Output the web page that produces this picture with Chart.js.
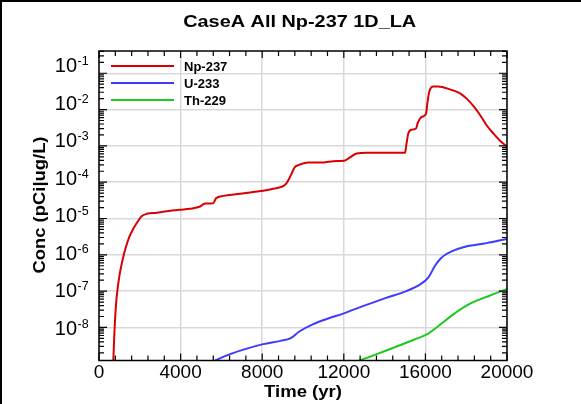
<!DOCTYPE html>
<html>
<head>
<meta charset="utf-8">
<script src="https://cdn.jsdelivr.net/npm/chart.js@4/dist/chart.umd.min.js"></script>
<style>
html,body{margin:0;padding:0;background:#fff;}
canvas{display:block;}
</style>
</head>
<body>
<canvas id="c" width="581" height="404"></canvas>
<script>
// ---- data ----
const chartTitle = "CaseA All Np-237 1D_LA";
const xTitle = "Time (yr)";
const yTitle = "Conc (pCi|ug/L)";
const seriesNames = ["Np-237", "U-233", "Th-229"];
const xTickValues = [0, 4000, 8000, 12000, 16000, 20000];
const yTickExponents = [-1, -2, -3, -4, -5, -6, -7, -8];

const npTime = [700, 750, 800, 860, 920, 1000, 1100, 1200, 1300, 1490, 1680, 1900, 2090, 2340, 2830, 3320, 3970, 4460, 4950, 5100, 5200, 5450, 5600, 5735, 6090, 6910, 7560, 8050, 8540, 9030, 9200, 9360, 9600, 9770, 10260, 11000, 11490, 12020, 12300, 12630, 13120, 15000, 15050, 15160, 15330, 15540, 15620, 15820, 16030, 16095, 16190, 16390, 16630, 17200, 17700, 18020, 18350, 18680, 19000, 19330, 19660, 20000];
const npConc = [1.12e-9, 6.3e-9, 2.24e-8, 6.3e-8, 1.26e-7, 2.63e-7, 5.2e-7, 9.3e-7, 1.51e-6, 3.16e-6, 5.2e-6, 8.3e-6, 1.15e-5, 1.35e-5, 1.45e-5, 1.58e-5, 1.74e-5, 1.86e-5, 2.14e-5, 2.45e-5, 2.6e-5, 2.6e-5, 2.62e-5, 3.6e-5, 4.2e-5, 4.8e-5, 5.4e-5, 5.8e-5, 6.6e-5, 7.8e-5, 9.5e-5, 1.38e-4, 2.6e-4, 2.95e-4, 3.5e-4, 3.5e-4, 3.8e-4, 3.9e-4, 4.8e-4, 6.2e-4, 6.5e-4, 6.5e-4, 9.3e-4, 2.2e-3, 2.8e-3, 3.0e-3, 4.2e-3, 6.3e-3, 7.6e-3, 1.48e-2, 3.1e-2, 4.3e-2, 4.3e-2, 3.6e-2, 2.8e-2, 2.0e-2, 1.26e-2, 7.1e-3, 3.7e-3, 2.2e-3, 1.38e-3, 9.5e-4];

const uTime = [5600, 6400, 7200, 8050, 8900, 9400, 9800, 10500, 11200, 12000, 13000, 14000, 15100, 15700, 16150, 16470, 16750, 17050, 17860, 19000, 20000];
const uConc = [1.17e-9, 1.82e-9, 2.57e-9, 3.47e-9, 4.27e-9, 5.1e-9, 7.6e-9, 1.23e-8, 1.74e-8, 2.45e-8, 4.0e-8, 6.3e-8, 1.02e-7, 1.48e-7, 2.4e-7, 5.0e-7, 7.9e-7, 1.07e-6, 1.62e-6, 2.1e-6, 2.75e-6];

const thTime = [12550, 12710, 13780, 15400, 16140, 16550, 17370, 18190, 19170, 20000];
const thConc = [1.12e-9, 1.2e-9, 2.0e-9, 4.5e-9, 6.8e-9, 1.0e-8, 2.3e-8, 4.5e-8, 7.6e-8, 1.15e-7];

const colors = ["#d80000", "#3c3cff", "#1ec81e"];

// ---- build ----
function pts(t, v) { return t.map((x, i) => ({x: x, y: v[i]})); }
const seriesData = [pts(npTime, npConc), pts(uTime, uConc), pts(thTime, thConc)];

function drawText(ctx, s, x, y, font, width, align, rot) {
  ctx.save();
  ctx.font = font;
  const m = ctx.measureText(s).width;
  const sx = width ? width / m : 1;
  ctx.translate(x, y);
  if (rot) ctx.rotate(rot);
  ctx.scale(sx, 1);
  ctx.textAlign = align || 'left';
  ctx.textBaseline = 'alphabetic';
  ctx.fillStyle = '#000';
  ctx.fillText(s, 0, 0);
  ctx.restore();
}

const decorPlugin = {
  id: 'decor',
  beforeDraw(chart) {
    const ctx = chart.ctx;
    ctx.save();
    ctx.fillStyle = '#fff';
    ctx.fillRect(0, 0, chart.width, chart.height);
    ctx.restore();
  },
  afterDraw(chart) {
    const ctx = chart.ctx, ca = chart.chartArea;
    const xs = chart.scales.x, ys = chart.scales.y;
    ctx.save();
    // outer image border (top + left)
    ctx.fillStyle = '#000';
    ctx.fillRect(0, 0, chart.width, 2);
    ctx.fillRect(0, 0, 2, chart.height);

    // frame
    ctx.strokeStyle = '#000';
    ctx.lineWidth = 1.5;
    ctx.strokeRect(ca.left, ca.top, ca.right - ca.left, ca.bottom - ca.top);

    // x ticks (major + minor), bottom and top, inward
    ctx.lineWidth = 1.2;
    for (let v = 0; v <= 20000; v += 800) {
      const px = xs.getPixelForValue(v);
      const len = (v % 4000 === 0) ? 7 : 5;
      ctx.beginPath();
      ctx.moveTo(px, ca.bottom); ctx.lineTo(px, ca.bottom - len);
      ctx.moveTo(px, ca.top); ctx.lineTo(px, ca.top + len);
      ctx.stroke();
    }
    // y ticks (major + minor), left and right, inward
    for (let d = -10; d <= 0; d++) {
      for (let m = 1; m <= 9; m++) {
        const val = m * Math.pow(10, d);
        if (val < ys.min || val > ys.max) continue;
        const py = ys.getPixelForValue(val);
        const len = (m === 1) ? 8 : 5;
        ctx.beginPath();
        ctx.moveTo(ca.left, py); ctx.lineTo(ca.left + len, py);
        ctx.moveTo(ca.right, py); ctx.lineTo(ca.right - len, py);
        ctx.stroke();
      }
    }

    // x tick labels
    ctx.fillStyle = '#000';
    xTickValues.forEach(v => {
      drawText(ctx, String(v), xs.getPixelForValue(v), 378, '19px "Liberation Sans", Arial, sans-serif', null, 'center');
    });
    // y tick labels 10^k
    yTickExponents.forEach(k => {
      const py = ys.getPixelForValue(Math.pow(10, k)) + (-9.5 + 1.23 * (-k));
      drawText(ctx, '10', 77, py + 7, '20px "Liberation Sans", Arial, sans-serif', null, 'right');
      drawText(ctx, String(k), 77.5, py, '12.5px "Liberation Sans", Arial, sans-serif', null, 'left');
    });

    // titles
    drawText(ctx, chartTitle, 299.7, 26.7, 'bold 16.5px "Liberation Sans", Arial, sans-serif', 233, 'center');
    drawText(ctx, xTitle, 303, 396.5, 'bold 17px "Liberation Sans", Arial, sans-serif', 78, 'center');
    drawText(ctx, yTitle, 45, 205, 'bold 17px "Liberation Sans", Arial, sans-serif', 137, 'center', -Math.PI / 2);

    // legend
    const rows = [66, 83, 100];
    chart.data.datasets.forEach((ds, i) => {
      ctx.strokeStyle = ds.borderColor;
      ctx.lineWidth = 2;
      ctx.beginPath();
      ctx.moveTo(111, rows[i]); ctx.lineTo(174, rows[i]);
      ctx.stroke();
      drawText(ctx, ds.label, 184, rows[i] + 4.5, 'bold 13px "Liberation Sans", Arial, sans-serif', null, 'left');
    });
    ctx.restore();
  }
};

new Chart(document.getElementById('c'), {
  type: 'line',
  data: {
    datasets: seriesNames.map((n, i) => ({
      label: n,
      data: seriesData[i],
      borderColor: colors[i],
      backgroundColor: colors[i],
      borderWidth: 2,
      pointRadius: 0,
      fill: false,
      cubicInterpolationMode: 'monotone',
      clip: 0
    }))
  },
  options: {
    responsive: false,
    animation: false,
    devicePixelRatio: 1,
    layout: { padding: { left: 0, top: 51, right: 74, bottom: 0 } },
    plugins: { legend: { display: false }, title: { display: false }, tooltip: { enabled: false } },
    scales: {
      x: {
        type: 'linear', min: 0, max: 20000,
        ticks: { display: false },
        grid: { color: '#d9d9d9', lineWidth: 1.5, drawTicks: false },
        border: { display: false },
        afterBuildTicks: s => { s.ticks = xTickValues.map(v => ({value: v})); },
        afterFit: s => { s.height = 43.5; }
      },
      y: {
        type: 'logarithmic', min: 1.23e-9, max: 0.41,
        ticks: { display: false },
        grid: { color: '#d9d9d9', lineWidth: 1.5, drawTicks: false },
        border: { display: false },
        afterBuildTicks: s => { s.ticks = yTickExponents.map(k => ({value: Math.pow(10, k), major: true})); },
        afterFit: s => { s.width = 99; }
      }
    }
  },
  plugins: [decorPlugin]
});
</script>
</body>
</html>
